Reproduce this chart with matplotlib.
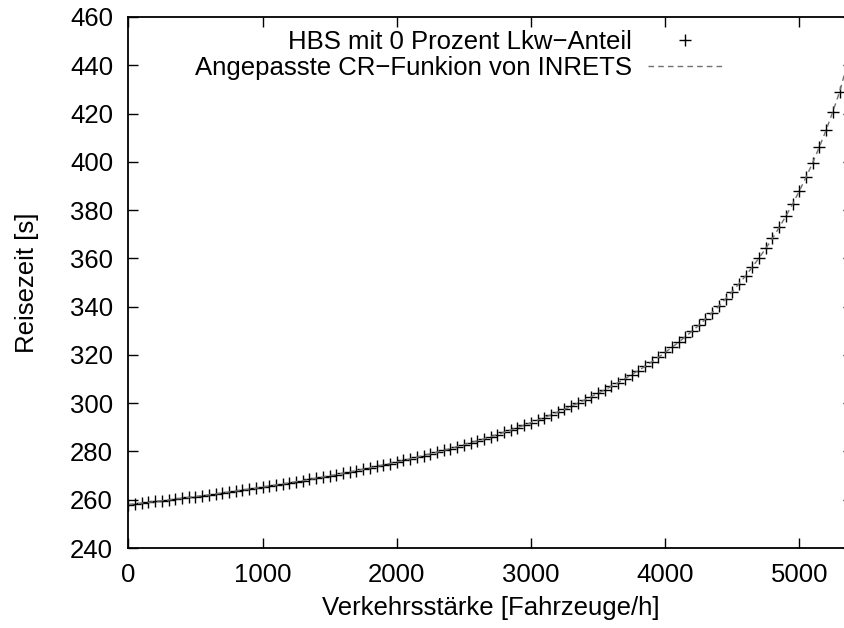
import matplotlib
matplotlib.use("Agg")
import matplotlib.pyplot as plt

plt.rcParams['font.family'] = ['Liberation Sans', 'DejaVu Sans']

# HBS points (0 % trucks), every 50 veh/h
flow = [0, 50, 100, 150, 200, 250, 300, 350, 400, 450,
        500, 550, 600, 650, 700, 750, 800, 850, 900, 950,
        1000, 1050, 1100, 1150, 1200, 1250, 1300, 1350, 1400, 1450,
        1500, 1550, 1600, 1650, 1700, 1750, 1800, 1850, 1900, 1950,
        2000, 2050, 2100, 2150, 2200, 2250, 2300, 2350, 2400, 2450,
        2500, 2550, 2600, 2650, 2700, 2750, 2800, 2850, 2900, 2950,
        3000, 3050, 3100, 3150, 3200, 3250, 3300, 3350, 3400, 3450,
        3500, 3550, 3600, 3650, 3700, 3750, 3800, 3850, 3900, 3950,
        4000, 4050, 4100, 4150, 4200, 4250, 4300, 4350, 4400, 4450,
        4500, 4550, 4600, 4650, 4700, 4750, 4800, 4850, 4900, 4950,
        5000, 5050, 5100, 5150, 5200, 5250, 5300]
hbs = [258.0, 258.3, 258.6, 258.9, 259.3, 259.6, 259.9, 260.3, 260.6, 261.0,
       261.3, 261.7, 262.0, 262.4, 262.8, 263.2, 263.6, 264.0, 264.4, 264.8,
       265.2, 265.7, 266.1, 266.5, 267.0, 267.5, 267.9, 268.4, 268.9, 269.4,
       269.9, 270.4, 271.0, 271.5, 272.0, 272.6, 273.2, 273.8, 274.4, 275.0,
       275.6, 276.3, 276.9, 277.6, 278.3, 279.0, 279.7, 280.4, 281.2, 282.0,
       282.8, 283.6, 284.4, 285.2, 286.1, 287.0, 287.9, 288.9, 289.9, 290.9,
       291.9, 293.0, 294.0, 295.2, 296.3, 297.5, 298.7, 300.0, 301.3, 302.7,
       304.1, 305.5, 307.0, 308.5, 310.1, 311.8, 313.5, 315.2, 317.1, 319.0,
       321.0, 323.1, 325.2, 327.5, 329.8, 332.2, 334.8, 337.5, 340.2, 343.2,
       346.2, 349.5, 352.8, 356.4, 360.2, 364.1, 368.3, 372.8, 377.5, 382.5,
       387.9, 393.6, 399.7, 406.2, 413.2, 420.8, 429.0]

# fitted INRETS CR function, sampled at the same flows plus the tail
cr_flow = flow + [5350, 5400]
cr_time = hbs + [439.0, 449.0]

label_hbs = "HBS mit 0 Prozent Lkw\u2212Anteil"
label_cr = "Angepasste CR\u2212Funkion von INRETS"

FS = 18.5

fig = plt.figure(figsize=(8.45, 6.28), dpi=100)
ax = fig.add_axes([128.3 / 845, 80 / 628, (853 - 128.3) / 845, 531 / 628])

ax.plot(flow, hbs, linestyle='none', marker='+', markersize=9,
        markeredgewidth=1.0, color='black', label=label_hbs)
ax.plot(cr_flow, cr_time, linestyle=(0, (4, 3)), linewidth=1.0,
        color='#707070', label=label_cr)

ax.set_xlim(0, 5400)
ax.set_ylim(240, 460)
ax.set_xticks(range(0, 6000, 1000))
ax.set_yticks(range(240, 461, 20))
ax.tick_params(direction='in', length=7, width=1.0, labelsize=FS,
               top=True, right=True)
ax.tick_params(axis='x', pad=11)
ax.tick_params(axis='y', pad=11)
for s in ax.spines.values():
    s.set_linewidth(1.3)

ax.set_xlabel("Verkehrsst\u00e4rke [Fahrzeuge/h]", fontsize=FS, labelpad=6)
ax.set_ylabel("Reisezeit [s]", fontsize=FS, labelpad=22)

ax.legend(loc='upper right', bbox_to_anchor=(0.82, 0.975), frameon=False,
          markerfirst=False, fontsize=FS, handlelength=2.9,
          handletextpad=0.62, labelspacing=0.08, borderpad=0,
          borderaxespad=0)

fig.savefig("out.png", dpi=100)
